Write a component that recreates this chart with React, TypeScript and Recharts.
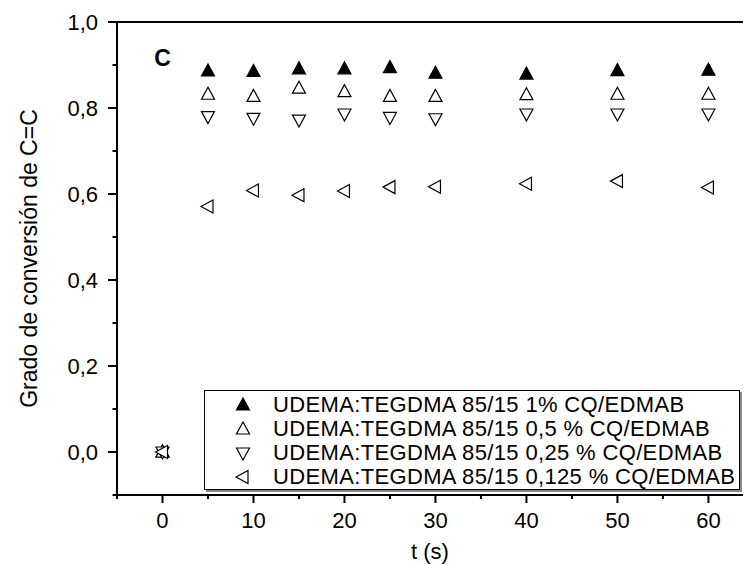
import React from 'react';
import { ScatterChart, Scatter, XAxis, YAxis, ReferenceLine, ReferenceDot, Legend } from 'recharts';

const times = [0, 5, 10, 15, 20, 25, 30, 40, 50, 60];
const conv1 = [0, 0.886, 0.885, 0.891, 0.891, 0.894, 0.881, 0.879, 0.887, 0.888];
const conv05 = [0, 0.832, 0.827, 0.846, 0.838, 0.827, 0.827, 0.831, 0.832, 0.832];
const conv025 = [0, 0.78, 0.776, 0.772, 0.786, 0.778, 0.775, 0.786, 0.786, 0.786];
const conv0125 = [0, 0.571, 0.608, 0.597, 0.607, 0.616, 0.617, 0.624, 0.63, 0.615];

const seriesNames = [
  'UDEMA:TEGDMA 85/15 1% CQ/EDMAB',
  'UDEMA:TEGDMA 85/15 0,5 % CQ/EDMAB',
  'UDEMA:TEGDMA 85/15 0,25 % CQ/EDMAB',
  'UDEMA:TEGDMA 85/15 0,125 % CQ/EDMAB',
];

const xTicks = [-5, 0, 5, 10, 15, 20, 25, 30, 35, 40, 45, 50, 55, 60];
const yTicks = [-0.1, 0, 0.1, 0.2, 0.3, 0.4, 0.5, 0.6, 0.7, 0.8, 0.9, 1.0];

const toRows = (vals: number[]) => times.map((t, i) => ({ t, v: vals[i] }));

const FONT = '"Liberation Sans", Arial, sans-serif';

type Kind = 'upFilled' | 'up' | 'down' | 'left';

const triPoints = (cx: number, cy: number, kind: Kind) => {
  if (kind === 'down') return `${cx},${cy + 7} ${cx - 6.5},${cy - 5} ${cx + 6.5},${cy - 5}`;
  if (kind === 'left') return `${cx - 7},${cy} ${cx + 5},${cy - 6.5} ${cx + 5},${cy + 6.5}`;
  return `${cx},${cy - 7} ${cx - 6.5},${cy + 5} ${cx + 6.5},${cy + 5}`;
};

const Marker = ({ cx, cy, kind }: { cx: number; cy: number; kind: Kind }) => (
  <polygon
    points={triPoints(cx, cy, kind)}
    fill={kind === 'upFilled' ? '#000' : '#fff'}
    stroke="#000"
    strokeWidth={1.2}
  />
);

const kinds: Kind[] = ['upFilled', 'up', 'down', 'left'];

const XTick = (props: any) => {
  const { x, y, payload } = props;
  const v = payload.value;
  const major = v % 10 === 0;
  return (
    <g>
      <line x1={x} x2={x} y1={y} y2={y + (major ? 8 : 4)} stroke="#000" strokeWidth={2} />
      {major && (
        <text x={x} y={y + 33} textAnchor="middle" fontSize={22} fontFamily={FONT} fill="#000">
          {v}
        </text>
      )}
    </g>
  );
};

const YTick = (props: any) => {
  const { x, y, payload } = props;
  const v = payload.value;
  const n = Math.round(v * 10);
  const major = n >= 0 && n % 2 === 0;
  return (
    <g>
      <line x1={x - (major ? 9 : 4.5)} x2={x} y1={y} y2={y} stroke="#000" strokeWidth={2} />
      {major && (
        <text x={x - 19} y={y + 8} textAnchor="end" fontSize={22} fontFamily={FONT} fill="#000">
          {v.toFixed(1).replace('.', ',')}
        </text>
      )}
    </g>
  );
};

const LegendBox = () => (
  <div
    style={{
      width: 534,
      height: 96,
      border: '1px solid #000',
      boxShadow: '2px 2px 0 #888',
      background: '#fff',
      fontFamily: FONT,
      fontSize: 22,
      letterSpacing: 0.35,
      color: '#000',
      paddingTop: 2,
      boxSizing: 'content-box',
    }}
  >
    {seriesNames.map((name, i) => (
      <div key={name} style={{ display: 'flex', alignItems: 'center', height: 24 }}>
        <svg width={68} height={20} style={{ flex: 'none' }}>
          <Marker cx={38} cy={10} kind={kinds[i]} />
        </svg>
        <span style={{ whiteSpace: 'nowrap' }}>{name}</span>
      </div>
    ))}
  </div>
);

export default function App() {
  const series = [conv1, conv05, conv025, conv0125];
  return (
    <div style={{ width: 744, height: 565, background: '#fff' }}>
      <style>{'body{margin:0}'}</style>
      <ScatterChart width={744} height={565} margin={{ top: 22, right: 1, bottom: 0, left: 0 }}>
        <XAxis
          type="number"
          dataKey="t"
          domain={[-5, 63.8]}
          ticks={xTicks}
          interval={0}
          tickSize={0}
          tickMargin={0}
          tick={<XTick />}
          height={70}
          axisLine={{ stroke: '#000', strokeWidth: 2 }}
          tickLine={false}
          allowDataOverflow
          label={{
            content: (p: any) => (
              <text
                x={p.viewBox.x + p.viewBox.width / 2}
                y={p.viewBox.y + 64}
                textAnchor="middle"
                fontSize={22}
                fontFamily={FONT}
                fill="#000"
              >
                t (s)
              </text>
            ),
          }}
        />
        <YAxis
          type="number"
          dataKey="v"
          domain={[-0.1, 1.0]}
          ticks={yTicks}
          interval={0}
          tickSize={0}
          tickMargin={0}
          tick={<YTick />}
          width={117}
          axisLine={{ stroke: '#000', strokeWidth: 2 }}
          tickLine={false}
          allowDataOverflow
          label={{
            content: (p: any) => {
              const cx = 37;
              const cy = p.viewBox.y + p.viewBox.height / 2;
              return (
                <text
                  x={cx}
                  y={cy}
                  transform={`rotate(-90 ${cx} ${cy})`}
                  textAnchor="middle"
                  fontSize={23}
                  fontFamily={FONT}
                  fill="#000"
                >
                  Grado de conversión de C=C
                </text>
              );
            },
          }}
        />
        <ReferenceLine y={1.0} stroke="#000" strokeWidth={2} />
        <ReferenceDot
          x={0}
          y={0.916}
          r={0}
          fill="none"
          stroke="none"
          label={{ value: 'C', position: 'center', fontSize: 23, fontWeight: 'bold', fontFamily: FONT, fill: '#000' }}
        />
        {series.map((vals, i) => (
          <Scatter
            key={seriesNames[i]}
            name={seriesNames[i]}
            data={toRows(vals)}
            isAnimationActive={false}
            shape={(p: any) => <Marker cx={p.cx} cy={p.cy} kind={kinds[i]} />}
          />
        ))}
        <Legend
          layout="horizontal"
          verticalAlign="middle"
          align="center"
          wrapperStyle={{ left: 204, top: 390, width: 537, height: 100 }}
          content={() => <LegendBox />}
        />
      </ScatterChart>
    </div>
  );
}
